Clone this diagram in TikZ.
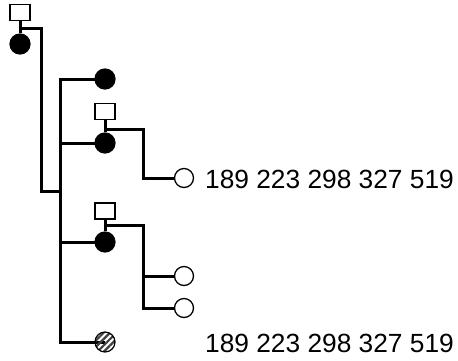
\documentclass[tikz,border=0pt]{standalone}
\usepackage{fontspec}
\setmainfont{Liberation Sans}
\usetikzlibrary{patterns.meta}
\pgfdeclarelayer{bg}
\pgfsetlayers{bg,main}
\tikzset{
  conn/.style={line width=3pt, draw=black},
  sq/.style={draw=black, line width=1.3pt, fill=white, rectangle, minimum width=20pt, minimum height=16pt, inner sep=0pt},
  full/.style={circle, draw=black, fill=black, line width=1.2pt, minimum size=20pt, inner sep=0pt},
  open/.style={circle, draw=black, fill=white, line width=1.3pt, minimum size=19pt, inner sep=0pt},
  hatch/.style={circle, draw=black, line width=1.2pt, minimum size=20pt, inner sep=0pt,
    pattern={Lines[angle=45,distance=4.5pt,line width=2.2pt]}, pattern color=black!75},
  lbl/.style={anchor=west, inner sep=0pt, font=\fontsize{26.3}{30}\selectfont}
}
\begin{document}
\begin{tikzpicture}[x=1pt,y=-1pt]
\useasboundingbox (0,0) rectangle (458,360);
% reference x positions of the brackets
\coordinate (v1) at (60,0);
\coordinate (v2) at (143,0);
% root
\node[sq] (s0) at (20,12.5) {};
\node[full] (r) at (20,44) {};
\coordinate (j0) at (20,28);
\coordinate (k0) at (41,191);
% level 1
\node[full] (c1) at (105,79) {};
\node[sq] (s2) at (105,111.5) {};
\node[full] (c2) at (105,143) {};
\coordinate (j2) at (105,129);
\node[sq] (s3) at (105,211) {};
\node[full] (c3) at (105,242) {};
\coordinate (j3) at (105,225);
\node[hatch] (h) at (105,342) {};
% leaves
\node[open] (o1) at (184,178) {};
\node[open] (o2) at (184,276) {};
\node[open] (o3) at (184,308) {};
% labels
\node[lbl] (t1) at (205,179) {189 223 298 327 519};
\node[lbl] (t2) at (205,343) {189 223 298 327 519};
% connectors
\begin{pgfonlayer}{bg}
\draw[conn] (s0) -- (r);
\draw[conn] (j0) -| (k0) -- (k0 -| v1);
\draw[conn] (c1.center) -| (v1 |- h) -- (h.center);
\draw[conn] (c2.center) -- (c2 -| v1);
\draw[conn] (c3.center) -- (c3 -| v1);
\draw[conn] (s2) -- (c2);
\draw[conn] (s3) -- (c3);
\draw[conn] (j2) -| (v2 |- o1) -- (o1.center);
\draw[conn] (j3) -| (v2 |- o3) -- (o3.center);
\draw[conn] (o2.center) -- (o2 -| v2);
\end{pgfonlayer}
\end{tikzpicture}
\end{document}
